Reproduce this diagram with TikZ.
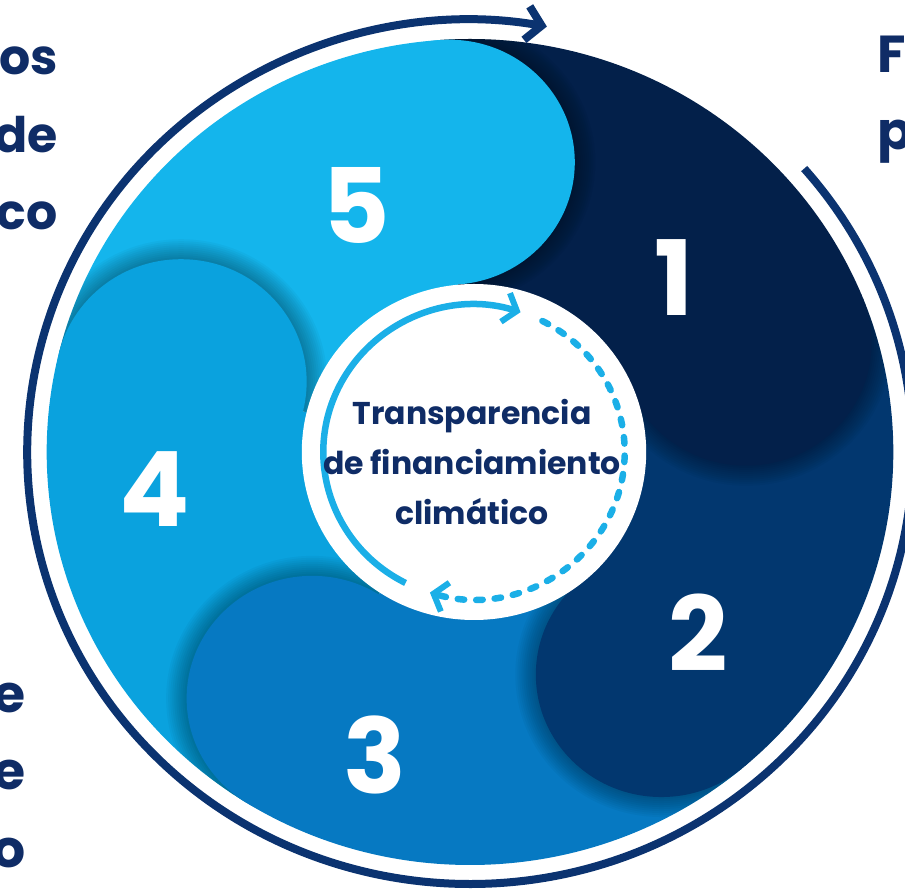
\documentclass[tikz,border=0pt]{standalone}
\usepackage{fontspec}
\setmainfont{Poppins}
\usetikzlibrary{arrows.meta}
\definecolor{segA}{HTML}{03204A}
\definecolor{segB}{HTML}{02376F}
\definecolor{segC}{HTML}{0679C2}
\definecolor{segD}{HTML}{0AA2DE}
\definecolor{segE}{HTML}{14B5EC}
\definecolor{ringc}{HTML}{0B3370}
\definecolor{txtc}{HTML}{0F2C66}
\definecolor{arrc}{HTML}{1BAFE7}
\tikzset{
  sidetext/.style={text=txtc, font=\fontsize{52}{60}\selectfont\bfseries, inner sep=0pt},
  sidetextsmall/.style={text=txtc, font=\fontsize{49}{60}\selectfont\bfseries, inner sep=0pt},
  numtext/.style={text=white, font=\fontsize{104}{110}\selectfont\bfseries, inner sep=0pt},
  ringline/.style={draw=ringc, line width=8pt, -{Straight Barb[length=15pt,width=34pt,line width=8pt]}},
  arrsolid/.style={draw=arrc, line width=6.5pt, -{Straight Barb[length=12pt,width=30pt,line width=6pt]}},
  arrdash/.style={draw=arrc, line width=6.5pt, line cap=round, dash pattern=on 6.5pt off 12pt, -{Straight Barb[length=12pt,width=30pt,line width=6pt]}}
}
\begin{document}
\begin{tikzpicture}[x=1.025pt,y=1pt]
\useasboundingbox (-458.54,-441) rectangle (424.39,452);
\clip (-458.54,-441) rectangle (424.39,452);
\coordinate (o) at (0,0);
\coordinate (c) at (3.9,0);
% coloured disk
\begin{scope}
  \clip (o) circle [radius=413];
  \fill[segA] (o) -- (22:600) arc [start angle=22, end angle=94, radius=600] -- cycle;
  \fill[segB] (o) -- (-50:600) arc [start angle=-50, end angle=22, radius=600] -- cycle;
  \fill[segC] (o) -- (-122:600) arc [start angle=-122, end angle=-50, radius=600] -- cycle;
  \fill[segD] (o) -- (166:600) arc [start angle=166, end angle=238, radius=600] -- cycle;
  \fill[segE] (o) -- (94:600) arc [start angle=94, end angle=166, radius=600] -- cycle;
  \foreach \a/\c in {94/segE, 22/segA, -50/segB, -122/segC, 166/segD} {
    \begin{scope}
      \clip (o) -- (\a:600) arc [start angle=\a, end angle=\a-72, radius=600] -- cycle;
      \foreach \i in {1,...,10}
        \fill[black, opacity=0.03] (\a:290.5) circle [radius=122.5+2*\i];
    \end{scope}
    \fill[\c] (\a:290.5) circle [radius=122.5];
  }
\end{scope}
% centre
\fill[white] (c) circle [radius=168];
\draw[arrsolid] (c) ++(243:147) arc [start angle=243, end angle=72, radius=147];
\draw[arrdash] (c) ++(63:147) arc [start angle=63, end angle=-107, radius=147];
\node[text=txtc, font=\fontsize{31.5}{50}\selectfont\bfseries, align=center, inner sep=0pt] (title) at (2,-10)
  {Transparencia\\de financiamiento\\climático};
% outer ring
\draw[ringline] (o) ++(41:432) arc [start angle=41, end angle=-280, radius=432];
% numbers
\node[numtext] (n5) at (-111.2,247) {5};
\node[numtext] (n1) at (199,174) {1};
\node[numtext] (n2) at (222.4,-181) {2};
\node[numtext] (n3) at (-92.7,-303) {3};
\node[numtext] (n4) at (-307.3,-37) {4};
% cut-off side texts
\node[sidetextsmall, anchor=base east] (l1) at (-401.9,377) {os};
\node[sidetextsmall, anchor=base east] (l2) at (-401.9,299) {de};
\node[sidetextsmall, anchor=base east] (l3) at (-401.9,222) {co};
\node[sidetext, anchor=base east] (b1) at (-433.1,-261) {e};
\node[sidetext, anchor=base east] (b2) at (-433.1,-338) {e};
\node[sidetext, anchor=base east] (b3) at (-433.1,-415) {o};
\node[sidetext, anchor=base west] (r1) at (397.1,379) {F};
\node[sidetext, anchor=base west] (r2) at (397.1,302) {p};
\end{tikzpicture}
\end{document}
